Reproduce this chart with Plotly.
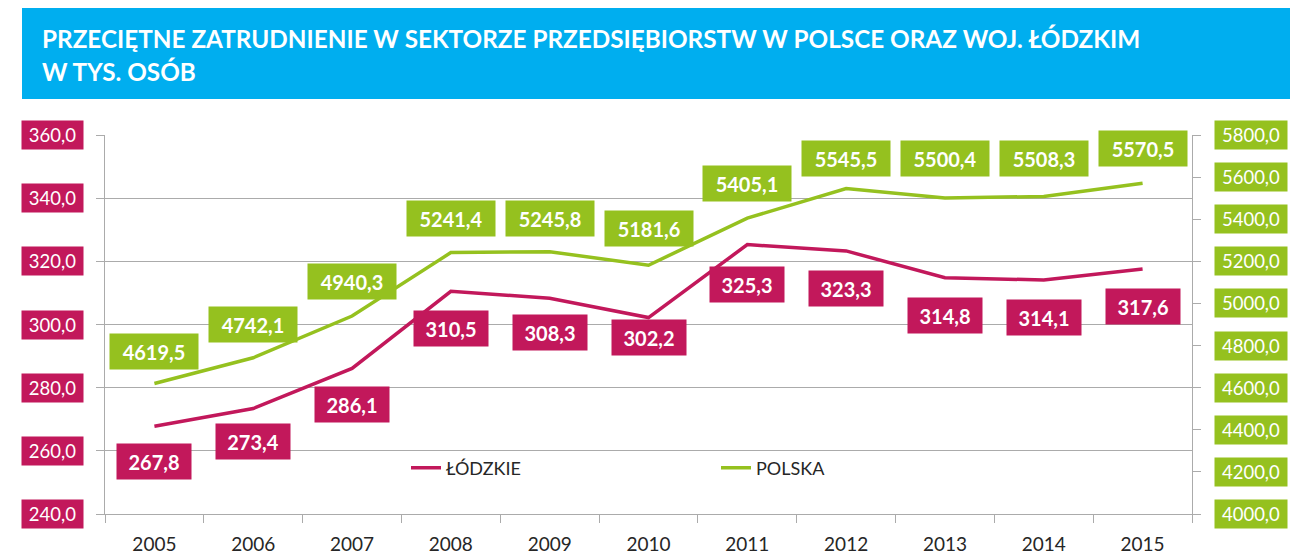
import plotly.graph_objects as go

# ---------------- data ----------------
years = ["2005", "2006", "2007", "2008", "2009", "2010", "2011", "2012", "2013", "2014", "2015"]
lodzkie = [267.8, 273.4, 286.1, 310.5, 308.3, 302.2, 325.3, 323.3, 314.8, 314.1, 317.6]
polska = [4619.5, 4742.1, 4940.3, 5241.4, 5245.8, 5181.6, 5405.1, 5545.5, 5500.4, 5508.3, 5570.5]
left_ticks = [240, 260, 280, 300, 320, 340, 360]
right_ticks = [4000, 4200, 4400, 4600, 4800, 5000, 5200, 5400, 5600, 5800]
title_lines = ["PRZECIĘTNE ZATRUDNIENIE W SEKTORZE PRZEDSIĘBIORSTW W POLSCE ORAZ WOJ. ŁÓDZKIM",
               "W TYS. OSÓB"]
series_names = ["ŁÓDZKIE", "POLSKA"]

# label offsets (pixels, below/above the point)
lodz_label_shift = [-17, -14, -18, -19, -16, -1, -21, -19, -19, -19, -19]
pol_label_shift = [14, 15, 16, 16, 15, 18, 16, 12, 21, 19, 16]

# ---------------- style ----------------
MAGENTA = "#C2185B"
GREEN = "#95C11F"
BLUE = "#00AEEF"
GRID = "#ABABAB"
FONT = "Lato"

OFF = 8  # page body margin
W, H = 1300 - OFF, 557 - OFF
# plot area in reference-page pixels
PL, PR, PT, PB = 105, 1192, 135, 514


def pxx(px):
    return (px - PL) / (PR - PL)


def pxy(py):
    return (PB - py) / (PB - PT)


def fmt(v):
    return f"{v:.1f}".replace(".", ",")


fig = go.Figure()
fig.add_trace(go.Scatter(x=years, y=lodzkie, name=series_names[0], mode="lines",
                         line=dict(color=MAGENTA, width=3.5), yaxis="y"))
fig.add_trace(go.Scatter(x=years, y=polska, name=series_names[1], mode="lines",
                         line=dict(color=GREEN, width=3.5), yaxis="y2"))

annotations = []
# title banner text
for i, line in enumerate(title_lines):
    annotations.append(dict(xref="paper", yref="paper", x=pxx(40), y=pxy(38 + i * 33),
                            xanchor="left", yanchor="middle", text=f"<b>{line}</b>",
                            showarrow=False, font=dict(family=FONT, size=24.3, color="white")))

# data labels (x given as category index)
for i, (v, s) in enumerate(zip(lodzkie, lodz_label_shift)):
    annotations.append(dict(xref="x", yref="y", x=i, y=v, yshift=s,
                            yanchor="top", text=f"<b>{fmt(v)}</b>", showarrow=False,
                            bgcolor=MAGENTA, borderpad=6, width=62, height=23,
                            font=dict(family=FONT, size=20, color="white")))
for i, (v, s) in enumerate(zip(polska, pol_label_shift)):
    annotations.append(dict(xref="x", yref="y2", x=i, y=v, yshift=s,
                            yanchor="bottom", text=f"<b>{fmt(v)}</b>", showarrow=False,
                            bgcolor=GREEN, borderpad=6, width=76, height=23,
                            font=dict(family=FONT, size=20, color="white")))

# boxed axis tick labels
for t in left_ticks:
    annotations.append(dict(xref="paper", yref="y", x=pxx(52), y=t, xanchor="center",
                            yanchor="middle", text=fmt(t), showarrow=False,
                            bgcolor=MAGENTA, borderpad=4, width=53, height=20,
                            font=dict(family=FONT, size=18.5, color="white")))
for t in right_ticks:
    annotations.append(dict(xref="paper", yref="y2", x=pxx(1251), y=t, xanchor="center",
                            yanchor="middle", text=fmt(t), showarrow=False,
                            bgcolor=GREEN, borderpad=4, width=64, height=20,
                            font=dict(family=FONT, size=18.5, color="white")))

fig.update_layout(
    width=W, height=H,
    margin=dict(l=PL - OFF, r=1300 - PR, t=PT - OFF, b=557 - PB, autoexpand=False),
    paper_bgcolor="white", plot_bgcolor="white",
    font=dict(family=FONT, color="#262626"),
    showlegend=True,
    legend=dict(orientation="h", x=pxx(406), y=pxy(468), xanchor="left", yanchor="middle",
                font=dict(family=FONT, size=18, color="#262626"),
                bgcolor="rgba(0,0,0,0)", entrywidth=265, entrywidthmode="pixels"),
    xaxis=dict(type="category", range=[-0.5, len(years) - 0.5], tickson="boundaries",
               ticks="outside", ticklen=8, tickangle=0,
               tickcolor=GRID, showline=True, linecolor=GRID, linewidth=1,
               showgrid=False, tickfont=dict(family=FONT, size=19, color="#262626"),
               ticklabelstandoff=13),
    yaxis=dict(range=[240, 360], tickvals=left_ticks, showticklabels=False,
               ticks="outside", ticklen=8, tickcolor=GRID, showline=True, linecolor=GRID,
               showgrid=True, gridcolor=GRID, gridwidth=1, zeroline=False),
    yaxis2=dict(range=[4000, 5800], tickvals=right_ticks, showticklabels=False,
                overlaying="y", side="right", ticks="outside", ticklen=8, tickcolor=GRID,
                showline=True, linecolor=GRID, showgrid=False, zeroline=False),
    shapes=[dict(type="rect", xref="paper", yref="paper", x0=pxx(22), x1=pxx(1290),
                 y0=pxy(99), y1=pxy(8), fillcolor=BLUE, line=dict(width=0), layer="below")],
    annotations=annotations,
)

fig.write_html("out.html")
